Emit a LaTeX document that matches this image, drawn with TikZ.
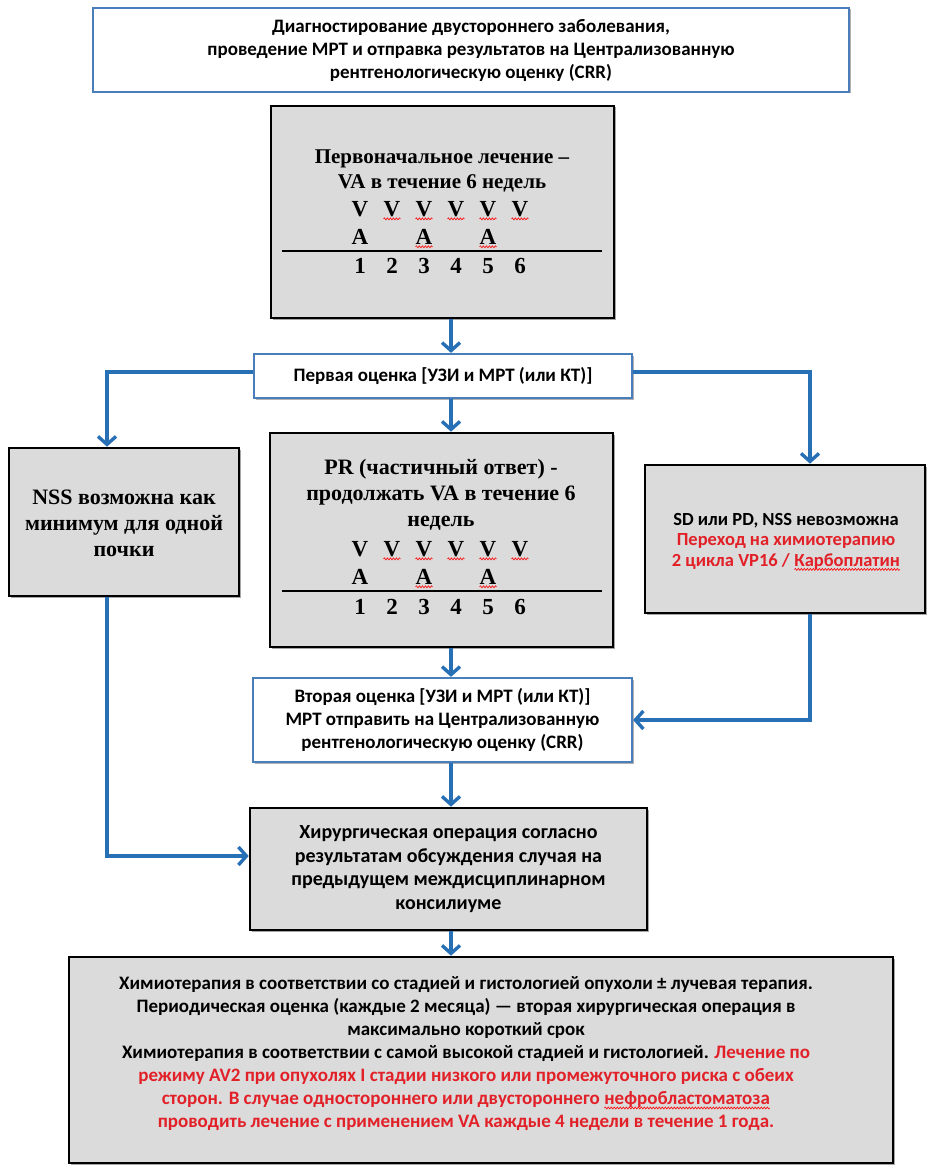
\documentclass[tikz,border=0pt]{standalone}
\usepackage{fontspec}
\setmainfont{Carlito}
\newfontfamily\serifcyr{Liberation Serif}
\usepackage{xcolor}
\usetikzlibrary{arrows.meta,shadows,decorations.pathmorphing}
\definecolor{boxblue}{RGB}{74,126,187}
\definecolor{arrowblue}{RGB}{40,112,182}
\definecolor{boxgray}{RGB}{219,219,219}
\definecolor{txtred}{RGB}{226,32,40}
\newcommand\wavyword[1]{\tikz[baseline=(ww.base)]{\node[inner sep=0pt, outer sep=0pt] (ww) {#1};
  \draw[draw=red, line width=0.6pt, decorate, decoration={snake, amplitude=1pt, segment length=3pt}]
  ([yshift=-3pt]ww.base west) -- ([yshift=-3pt]ww.base east);}}
\begin{document}
\begin{tikzpicture}[x=1pt,y=-1pt,
  boxbase/.style={rectangle, inner sep=0pt, align=center, font=\bfseries},
  bluebox/.style={boxbase, draw=boxblue, line width=2.2pt, fill=white,
    drop shadow={shadow xshift=1.5pt, shadow yshift=-1.5pt, opacity=0.3, fill=black}},
  graybox/.style={boxbase, draw=black, line width=2.6pt, fill=boxgray,
    drop shadow={shadow xshift=1.5pt, shadow yshift=-1.5pt, opacity=0.35, fill=black}},
  sanstxt/.style={font=\bfseries\fontsize{19}{23}\selectfont},
  seriftxt/.style={align=center, inner sep=0pt, font=\serifcyr\bfseries\fontsize{21}{25.5}\selectfont},
  cell/.style={inner sep=0pt, font=\serifcyr\bfseries\fontsize{23}{25}\selectfont},
  redsquig/.style={draw=red, line width=0.6pt, decorate, decoration={snake, amplitude=1pt, segment length=3pt}},
  conn/.style={draw=arrowblue, line width=3.4pt, -{Straight Barb[length=8pt,width=18pt]}},
]
\useasboundingbox (0,0) rectangle (935,1174);

% top box
\node[bluebox, sanstxt, minimum width=756pt, minimum height=84pt] (diag) at (471,50)
  {Диагностирование двустороннего заболевания,\\проведение МРТ и отправка результатов на Централизованную\\рентгенологическую оценку (CRR)};

% initial treatment box
\node[graybox, minimum width=343pt, minimum height=212pt] (init) at (442.5,212) {};
\node[seriftxt] (initt) at (442,171) {Первоначальное лечение –\\VA в течение 6 недель};
\foreach \i/\x in {1/360,2/392,3/424,4/456,5/488,6/520}{
  \node[cell] (va\i) at (\x,209) {V};
  \node[cell] (na\i) at (\x,266) {\i};
}
\foreach \i/\x in {1/360,3/424,5/488}{
  \node[cell] (aa\i) at (\x,237) {A};
}
\foreach \i in {2,...,6}{
  \draw[redsquig] ([yshift=-2pt]va\i.south west) -- ([yshift=-2pt]va\i.south east);
}
\foreach \i in {3,5}{
  \draw[redsquig] ([yshift=-2pt]aa\i.south west) -- ([yshift=-2pt]aa\i.south east);
}
\draw[line width=1.5pt] (282,251) -- (602,251);

% first assessment
\node[bluebox, sanstxt, minimum width=378pt, minimum height=44pt] (ass1) at (443,376)
  {Первая оценка [УЗИ и МРТ (или КТ)]};

% NSS box
\node[graybox, minimum width=230pt, minimum height=148pt] (nss) at (124,522) {};
\node[seriftxt, font=\serifcyr\bfseries\fontsize{22}{26}\selectfont] (nsst) at (124,523) {NSS возможна как\\минимум для одной\\почки};

% PR box
\node[graybox, minimum width=343pt, minimum height=214pt] (pr) at (441.5,540) {};
\node[seriftxt, font=\serifcyr\bfseries\fontsize{22}{26}\selectfont] (prt) at (441,495) {PR (частичный ответ) -\\продолжать VA в течение 6\\недель};
\foreach \i/\x in {1/360,2/392,3/424,4/456,5/488,6/520}{
  \node[cell] (vb\i) at (\x,549) {V};
  \node[cell] (nb\i) at (\x,607) {\i};
}
\foreach \i/\x in {1/360,3/424,5/488}{
  \node[cell] (ab\i) at (\x,577) {A};
}
\foreach \i in {2,...,6}{
  \draw[redsquig] ([yshift=-2pt]vb\i.south west) -- ([yshift=-2pt]vb\i.south east);
}
\foreach \i in {3,5}{
  \draw[redsquig] ([yshift=-2pt]ab\i.south west) -- ([yshift=-2pt]ab\i.south east);
}
\draw[line width=1.5pt] (282,591) -- (602,591);

% SD / PD box
\node[graybox, minimum width=280pt, minimum height=148pt] (sd) at (785,539) {};
\node[align=center, inner sep=0pt, font=\bfseries\fontsize{18.5}{20.5}\selectfont] (sdt) at (786,542)
  {SD или PD, NSS невозможна\\\textcolor{txtred}{Переход на химиотерапию}\\\textcolor{txtred}{2 цикла VP16 / \wavyword{\textcolor{txtred}{Карбоплатин}}}};

% second assessment
\node[bluebox, sanstxt, minimum width=379pt, minimum height=84pt] (ass2) at (442.5,720)
  {Вторая оценка [УЗИ и МРТ (или КТ)]\\МРТ отправить на Централизованную\\рентгенологическую оценку (CRR)};

% surgery
\node[graybox, font=\bfseries\fontsize{20}{23.5}\selectfont, minimum width=397pt, minimum height=122pt] (surg) at (448.5,869)
  {Хирургическая операция согласно\\результатам обсуждения случая на\\предыдущем междисциплинарном\\консилиуме};

% final box
\node[graybox, minimum width=824pt, minimum height=206pt] (fin) at (481,1060) {};
\node[align=center, inner sep=0pt, font=\bfseries\fontsize{19}{23}\selectfont] (fint) at (466,1054)
  {Химиотерапия в соответствии со стадией и гистологией опухоли ± лучевая терапия.\\
   Периодическая оценка (каждые 2 месяца) — вторая хирургическая операция в\\
   максимально короткий срок\\
   Химиотерапия в соответствии с самой высокой стадией и гистологией. \textcolor{txtred}{Лечение по}\\
   \textcolor{txtred}{режиму AV2 при опухолях I стадии низкого или промежуточного риска с обеих}\\
   \textcolor{txtred}{сторон. В случае одностороннего или двустороннего \wavyword{\textcolor{txtred}{нефробластоматоза}}}\\
   \textcolor{txtred}{проводить лечение с применением VA каждые 4 недели в течение 1 года.}};

% connectors
\coordinate (axis) at (451,0);
\coordinate (lbr) at (107,372);
\coordinate (rbr) at (810,372);
\coordinate (ljoin) at (107,856);
\draw[conn] (init.south -| axis) -- (ass1.north -| axis);
\draw[conn] (ass1.west |- lbr) -- (lbr) -- (nss.north -| lbr);
\draw[conn] (ass1.east |- rbr) -- (rbr) -- (sd.north -| rbr);
\draw[conn] (ass1.south -| axis) -- (pr.north -| axis);
\draw[conn] (pr.south -| axis) -- (ass2.north -| axis);
\draw[conn] (sd.south -| rbr) -- (rbr |- ass2.east) -- (ass2.east);
\draw[conn] (nss.south -| lbr) -- (lbr |- ljoin) -- (surg.west |- ljoin);
\draw[conn] (ass2.south -| axis) -- (surg.north -| axis);
\draw[conn] (surg.south -| axis) -- (fin.north -| axis);
\end{tikzpicture}
\end{document}
